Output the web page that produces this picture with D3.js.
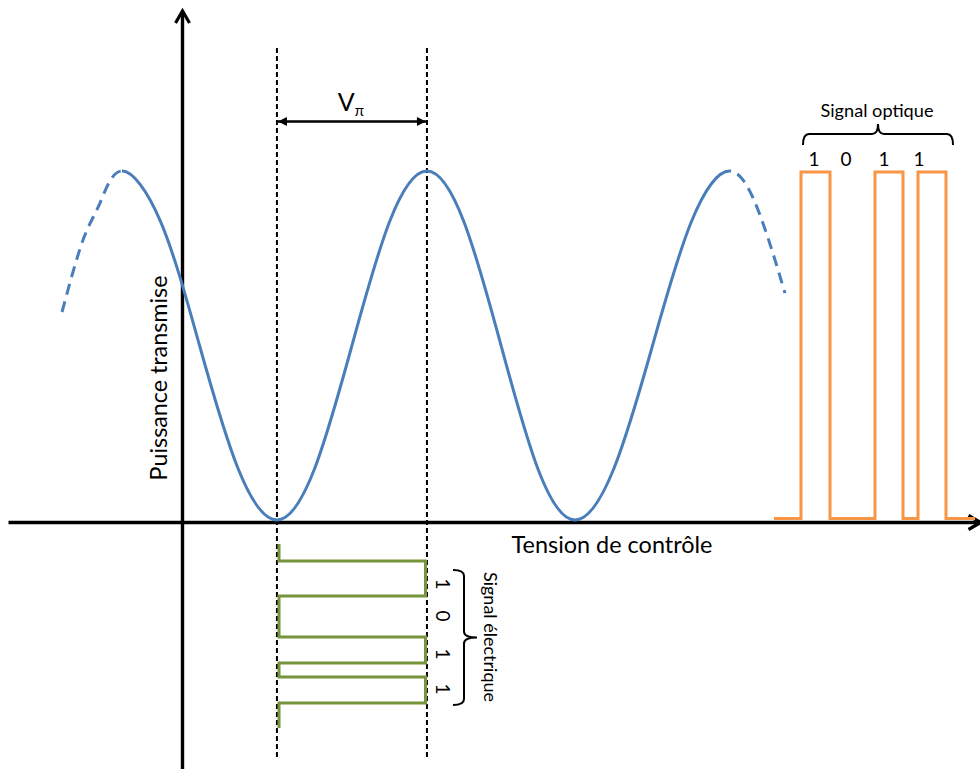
<!DOCTYPE html>
<html><head><meta charset="utf-8">
<script src="https://cdn.jsdelivr.net/npm/d3@7"></script>
<style>html,body{margin:0;padding:0;background:#fff;} svg{display:block;font-family:Lato,"Open Sans",sans-serif;}</style>
</head><body><svg id="c" width="980" height="769"></svg>
<script>
// ---------- data ----------
// Transfer curve: control voltage (units of Vπ, origin at the vertical axis) -> transmitted power (normalised)
const curveV = [-0.8, -0.66, -0.547, -0.4, -0.142, 0.117, 0.375, 0.633, 0.883, 1.133, 1.383, 1.633,
                1.88, 2.127, 2.373, 2.62, 2.878, 3.137, 3.395, 3.653, 3.853, 4.02];
const curveP = [0.596, 0.802, 0.908, 1, 0.854, 0.5, 0.146, 0, 0.146, 0.5, 0.854, 1,
                0.854, 0.5, 0.146, 0, 0.146, 0.5, 0.854, 1, 0.874, 0.65];
// Solid (measured) part of the curve; outside it the curve is dashed
const solidRange = [-0.4, 3.653];
// Bias guides: zero-transmission point and zero + Vπ
const guideV = [0.633, 1.633];
// Electrical signal (time runs downward)
const elecTimes  = [0, 17, 52, 93, 119, 133, 159, 184];
const elecLevels = [0, 1, 0, 1, 0, 1, 0];
// Optical signal (time runs to the right)
const optTimes  = [0, 27, 56, 101, 129, 144, 172, 201];
const optLevels = [0, 1, 0, 1, 0, 1, 0];
// Bit labels
const bitLabels = ["1", "0", "1", "1"];
const bitLabelTimes = [40, 72, 110, 145];
// Texts
const xTitle = "Tension de contrôle";
const yTitle = "Puissance transmise";
const optTitle = "Signal optique";
const elecTitle = "Signal électrique";

// ---------- scales ----------
const W = 980, H = 769;
const svg = d3.select("#c");
const x = d3.scaleLinear().domain([-1.16, 5.32]).range([8, 980]);
const y = d3.scaleLinear().domain([0, 1]).range([520, 171]);
const yAxisDomain = [-0.713, 1.46];
const yAxisScale = d3.scaleLinear().domain(yAxisDomain).range(yAxisDomain.map(y));
const tOpt = d3.scaleLinear().domain([0, 201]).range([774, 975]);
const lOpt = d3.scaleLinear().domain([0, 1]).range([518.5, 172]);
const tElec = d3.scaleLinear().domain([0, 184]).range([544, 728]);
const lElec = d3.scaleLinear().domain([0, 1]).range([279, 425.5]);

const BLUE = "#4a7ebb", ORANGE = "#f79646", GREEN = "#77933c";

// ---------- defs ----------
const defs = svg.append("defs");
defs.append("marker").attr("id", "axArrow").attr("markerUnits", "userSpaceOnUse")
  .attr("viewBox", "-16 -10 20 20").attr("refX", 0).attr("refY", 0)
  .attr("markerWidth", 20).attr("markerHeight", 20).attr("orient", "auto")
  .append("path").attr("d", "M-12,-7 L0,0 L-12,7").attr("fill", "none")
  .attr("stroke", "#000").attr("stroke-width", 3.2).attr("stroke-linejoin", "miter");
defs.append("marker").attr("id", "tri").attr("markerUnits", "userSpaceOnUse")
  .attr("viewBox", "-10 -6 12 12").attr("refX", 0).attr("refY", 0)
  .attr("markerWidth", 12).attr("markerHeight", 12).attr("orient", "auto-start-reverse")
  .append("path").attr("d", "M-9,-4.5 L0,0 L-9,4.5 Z").attr("fill", "#000");
const clips = [
  ["clipL", 0, x(solidRange[0])],
  ["clipM", x(solidRange[0]), x(solidRange[1])],
  ["clipR", x(solidRange[1]), W]
];
clips.forEach(([id, a, b]) => defs.append("clipPath").attr("id", id)
  .append("rect").attr("x", a).attr("y", 0).attr("width", b - a).attr("height", H));

// ---------- guides ----------
svg.append("g").selectAll("line").data(guideV).join("line")
  .attr("x1", d => x(d)).attr("x2", d => x(d))
  .attr("y1", 48).attr("y2", 757)
  .attr("stroke", "#000").attr("stroke-width", 2).attr("stroke-dasharray", "5,3");

// ---------- axes ----------
const gx = svg.append("g").attr("transform", `translate(0,${y(0) + 2})`)
  .call(d3.axisBottom(x).tickValues([]).tickSizeOuter(0));
gx.select(".domain").attr("stroke", "#000").attr("stroke-width", 3.4).attr("marker-end", "url(#axArrow)");
const gy = svg.append("g").attr("transform", `translate(${x(0)},0)`)
  .call(d3.axisLeft(yAxisScale).tickValues([]).tickSizeOuter(0));
gy.select(".domain").attr("stroke", "#000").attr("stroke-width", 3.4).attr("marker-end", "url(#axArrow)");

// ---------- transfer curve ----------
const pts = curveV.map((v, i) => [v, curveP[i]]);
const curvePath = d3.line().x(d => x(d[0])).y(d => y(d[1])).curve(d3.curveNatural)(pts);
clips.forEach(([id], i) => {
  svg.append("path").attr("d", curvePath).attr("clip-path", `url(#${id})`)
    .attr("fill", "none").attr("stroke", BLUE).attr("stroke-width", 3)
    .attr("stroke-dasharray", i === 1 ? null : "11,7");
});

// ---------- optical signal ----------
const optPts = optTimes.map((t, i) => [t, optLevels[Math.min(i, optLevels.length - 1)]]);
svg.append("path")
  .attr("d", d3.line().x(d => tOpt(d[0])).y(d => lOpt(d[1])).curve(d3.curveStepAfter)(optPts))
  .attr("fill", "none").attr("stroke", ORANGE).attr("stroke-width", 3);

// ---------- electrical signal ----------
const elecPts = elecTimes.map((t, i) => [elecLevels[Math.min(i, elecLevels.length - 1)], t]);
svg.append("path")
  .attr("d", d3.line().x(d => lElec(d[0])).y(d => tElec(d[1])).curve(d3.curveStepBefore)(elecPts))
  .attr("fill", "none").attr("stroke", GREEN).attr("stroke-width", 3);

// ---------- Vπ arrow ----------
svg.append("line").attr("x1", x(guideV[0]) + 1).attr("x2", x(guideV[1]) - 1)
  .attr("y1", 121.5).attr("y2", 121.5).attr("stroke", "#000").attr("stroke-width", 2.5)
  .attr("marker-start", "url(#tri)").attr("marker-end", "url(#tri)");
const vpi = svg.append("text").attr("x", (x(guideV[0]) + x(guideV[1])) / 2 - 1).attr("y", 111)
  .attr("text-anchor", "middle").attr("font-size", 25).attr("fill", "#000");
vpi.append("tspan").text("V");
vpi.append("tspan").attr("font-size", 15).attr("dy", 5).text("π");

// ---------- helpers ----------
function fit(sel, target) {
  const w = sel.node().getComputedTextLength();
  const fs = parseFloat(sel.attr("font-size"));
  sel.attr("font-size", (fs * target / w).toFixed(2));
  return sel;
}
function hBrace(x0, x1, yEnd, yBody, yTip) {
  const xm = (x0 + x1) / 2, r = 6;
  return `M${x0},${yEnd} Q${x0},${yBody} ${x0 + r},${yBody} L${xm - r},${yBody} Q${xm},${yBody} ${xm},${yTip} ` +
         `Q${xm},${yBody} ${xm + r},${yBody} L${x1 - r},${yBody} Q${x1},${yBody} ${x1},${yEnd}`;
}
function vBrace(y0, y1, xEnd, xBody, xTip) {
  const ym = (y0 + y1) / 2, r = 6;
  return `M${xEnd},${y0} Q${xBody},${y0} ${xBody},${y0 + r} L${xBody},${ym - r} Q${xBody},${ym} ${xTip},${ym} ` +
         `Q${xBody},${ym} ${xBody},${ym + r} L${xBody},${y1 - r} Q${xBody},${y1} ${xEnd},${y1}`;
}

// ---------- axis titles ----------
fit(svg.append("text").attr("x", 612).attr("y", 553).attr("text-anchor", "middle")
  .attr("font-size", 21).attr("fill", "#000").text(xTitle), 201);
fit(svg.append("text").attr("transform", "translate(167,378) rotate(-90)").attr("text-anchor", "middle")
  .attr("font-size", 20).attr("fill", "#000").text(yTitle), 205);

// ---------- optical annotations ----------
svg.append("path").attr("d", hBrace(803, 953, 145, 134, 124))
  .attr("fill", "none").attr("stroke", "#000").attr("stroke-width", 2);
fit(svg.append("text").attr("x", 877).attr("y", 117).attr("text-anchor", "middle")
  .attr("font-size", 16).attr("fill", "#000").text(optTitle), 113);
svg.append("g").selectAll("text").data(bitLabels).join("text")
  .attr("x", (d, i) => tOpt(bitLabelTimes[i])).attr("y", 165.5)
  .attr("text-anchor", "middle").attr("font-size", 19).attr("fill", "#000").text(d => d);

// ---------- electrical annotations ----------
svg.append("path").attr("d", vBrace(570, 705, 453, 464, 477))
  .attr("fill", "none").attr("stroke", "#000").attr("stroke-width", 2);
fit(svg.append("text").attr("transform", "translate(484,637) rotate(90)").attr("text-anchor", "middle")
  .attr("font-size", 15).attr("fill", "#000").text(elecTitle), 130);
svg.append("g").selectAll("text").data(bitLabels).join("text")
  .attr("transform", (d, i) => `translate(436,${tElec(bitLabelTimes[i])}) rotate(90)`)
  .attr("text-anchor", "middle").attr("font-size", 19).attr("fill", "#000").text(d => d);
</script>
</body></html>
